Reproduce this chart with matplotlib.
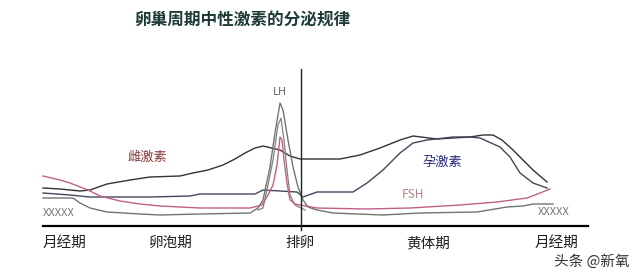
import matplotlib
matplotlib.use('Agg')
import matplotlib.pyplot as plt

plt.rcParams['font.family'] = ['Noto Sans CJK SC', 'DejaVu Sans']

# cycle position (0 = start of menses, 545 = next menses) and hormone level (arb.)
estrogen_x = [0, 17, 37, 47, 64, 87, 107, 137, 150, 165, 180, 192, 202, 212, 220, 237, 247, 257,
              297, 317, 337, 357, 370, 394, 410, 427, 440, 450, 459, 470, 480, 490, 504]
estrogen_y = [38, 37, 35, 36, 42, 46, 49, 50, 53, 56, 61, 67, 73, 78, 80, 76, 70, 67,
              67, 71, 78, 86, 90, 87, 88, 89, 91, 91, 86, 76, 66, 56, 44]

progest_x = [0, 27, 47, 107, 147, 157, 212, 220, 254, 260, 274, 310, 324, 340, 357, 370,
             384, 410, 427, 437, 457, 467, 477, 490, 504]
progest_y = [33, 31, 29, 29, 30, 32, 32, 36, 34, 29, 34, 34, 43, 56, 73, 83,
             86, 89, 89, 88, 79, 69, 53, 43, 38]

lh_x = [0, 30, 37, 47, 64, 97, 117, 157, 207, 215, 220, 227, 232, 237, 240, 245, 250, 255,
        260, 265, 274, 290, 340, 377, 434, 464, 480, 490, 510]
lh_y = [28, 28, 23, 18, 14, 12, 11, 12, 13, 18, 26, 59, 93, 123, 116, 86, 59, 39,
        26, 19, 16, 13, 11, 13, 14, 19, 20, 22, 22]

lh2_x = [215, 220, 225, 230, 235, 238, 241, 244, 247, 252, 262]
lh2_y = [16, 18, 41, 66, 101, 108, 86, 56, 31, 21, 16]

fsh_x = [0, 17, 27, 45, 57, 77, 97, 117, 157, 207, 219, 225, 230, 234, 237, 239, 241, 244,
         247, 252, 257, 274, 324, 367, 417, 454, 484, 497, 507]
fsh_y = [50, 46, 43, 36, 30, 25, 22, 20, 18, 18, 21, 31, 41, 61, 89, 86, 66, 43,
         26, 22, 21, 18, 17, 18, 21, 24, 28, 33, 37]

phases = ['月经期', '卵泡期', '排卵', '黄体期', '月经期']
phase_pos = [22, 128, 257, 385, 514]
ovulation = 258

fig = plt.figure(figsize=(6.4, 2.79), dpi=100)
ax = fig.add_axes([0, 0, 1, 1])
ax.set_xlim(-43, 597)
ax.set_ylim(-53, 226)
ax.axis('off')

ax.plot(estrogen_x, estrogen_y, c='#333333', lw=1.0)
ax.plot(progest_x, progest_y, c='#44465a', lw=1.0)
ax.plot(lh_x, lh_y, c='#707570', lw=1.0)
ax.plot(lh2_x, lh2_y, c='#808080', lw=0.9)
ax.plot(fsh_x, fsh_y, c='#c0608a', lw=1.0)

ax.plot([0, 545], [0, 0], c='k', lw=1.6)
ax.plot([ovulation, ovulation], [-4, 157], c='#222222', lw=1.0)

ax.text(199, 206, '卵巢周期中性激素的分泌规律', ha='center', va='center',
        fontsize=12, fontweight='bold', color='#1e3b38')
ax.text(104, 69, '雌激素', ha='center', va='center', fontsize=9.5, color='#8a3a3a')
ax.text(237, 134, 'LH', ha='center', va='center', fontsize=8, color='#666666')
ax.text(399, 64, '孕激素', ha='center', va='center', fontsize=9.5, color='#2a2a7a')
ax.text(370, 31, 'FSH', ha='center', va='center', fontsize=8.5, color='#b08585')
ax.text(0, 13, 'XXXXX', ha='left', va='center', fontsize=8, color='#777777')
ax.text(495, 14, 'XXXXX', ha='left', va='center', fontsize=8, color='#777777')

for lab, p in zip(phases, phase_pos):
    ax.text(p, -17, lab, ha='center', va='center', fontsize=10.5, color='#222222')

ax.text(549, -36, '头条 @新氧', ha='center', va='center', fontsize=10.5, color='#333333')

plt.savefig('out.png', dpi=100)
